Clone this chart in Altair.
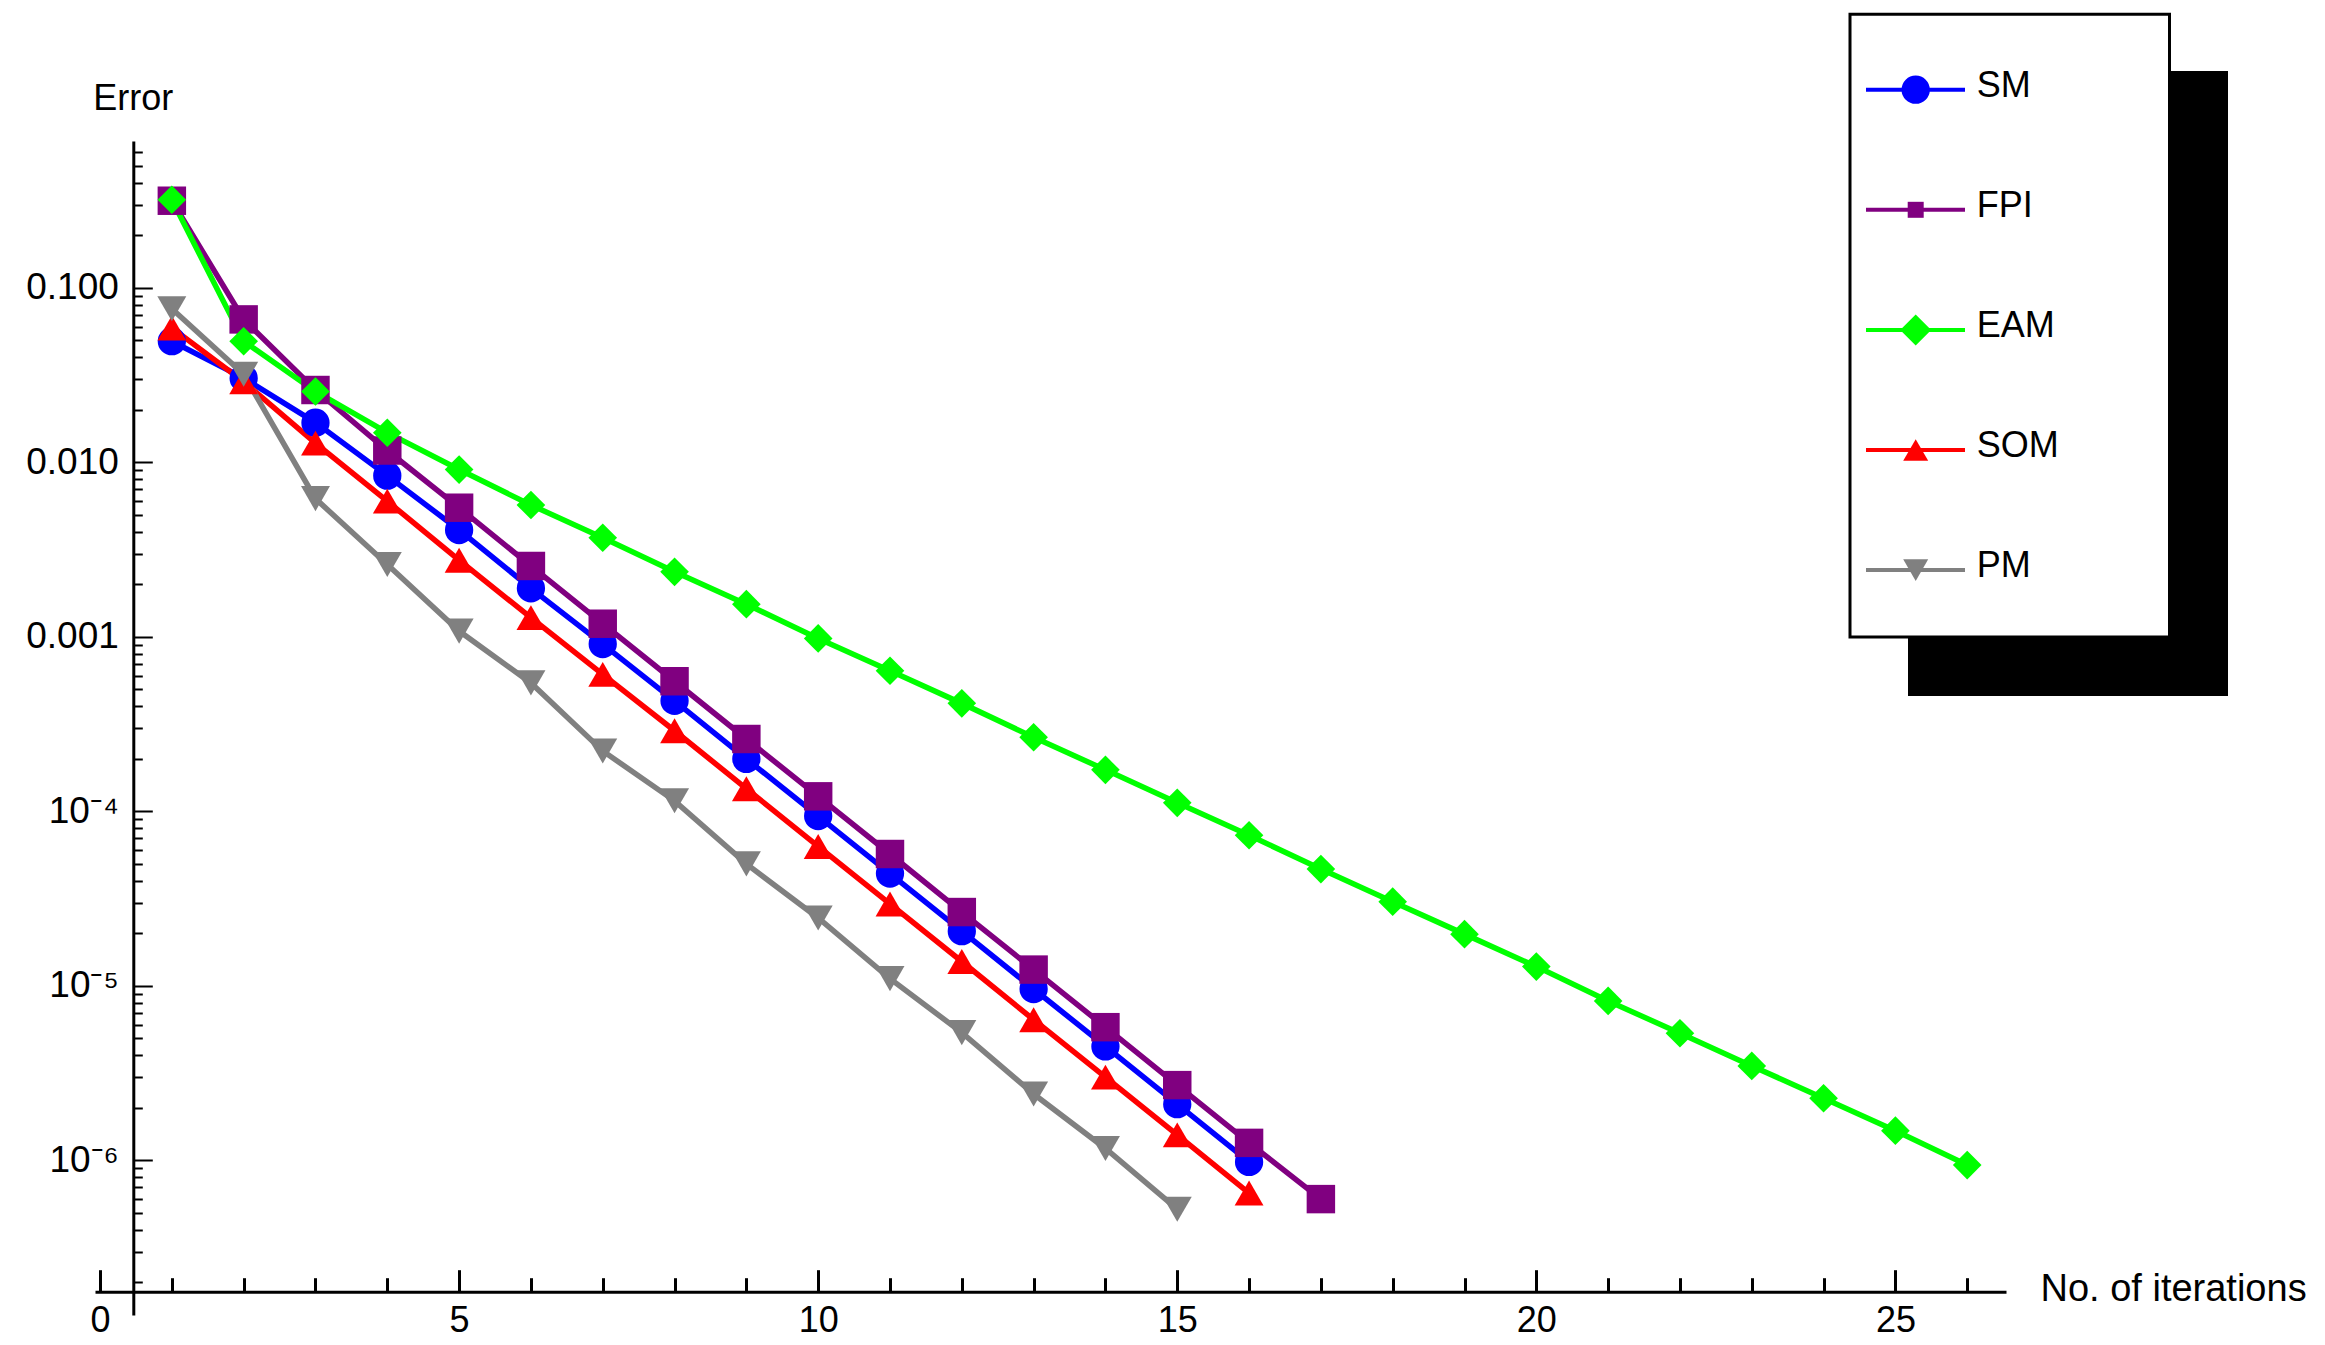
import json
import altair as alt
import pandas as pd

FONT = "Liberation Sans"

# ---------------- data ----------------
methods = ["SM", "FPI", "EAM", "SOM", "PM"]
colors = ["#0000ff", "#800080", "#00ff00", "#ff0000", "#808080"]
shapes = ["circle", "square", "diamond", "triangle-up", "triangle-down"]

sm_err = [0.0495, 0.0304, 0.0169, 0.0084, 0.0041, 0.0019, 9.1e-4, 4.3e-4,
          2.0e-4, 9.4e-5, 4.4e-5, 2.06e-5, 9.6e-6, 4.5e-6, 2.1e-6, 9.8e-7]
fpi_err = [0.316, 0.066, 0.026, 0.0117, 0.0055, 0.00255, 0.00119, 5.57e-4,
           2.6e-4, 1.22e-4, 5.7e-5, 2.65e-5, 1.24e-5, 5.8e-6, 2.7e-6, 1.26e-6, 6.0e-7]
eam_err = [0.32, 0.0495, 0.0255, 0.0148, 0.0091, 0.0057, 0.0037, 0.00236,
           0.00154, 9.8e-4, 6.4e-4, 4.16e-4, 2.66e-4, 1.73e-4, 1.12e-4, 7.3e-5,
           4.67e-5, 3.04e-5, 1.98e-5, 1.29e-5, 8.2e-6, 5.35e-6, 3.48e-6, 2.27e-6,
           1.48e-6, 9.4e-7]
som_err = [0.059, 0.029, 0.0129, 0.006, 0.00275, 0.00129, 6.1e-4, 2.9e-4,
           1.35e-4, 6.3e-5, 2.95e-5, 1.38e-5, 6.4e-6, 3.0e-6, 1.4e-6, 6.5e-7]
pm_err = [0.076, 0.032, 0.0062, 0.0026, 0.00108, 5.45e-4, 2.22e-4, 1.15e-4,
          5.0e-5, 2.45e-5, 1.1e-5, 5.4e-6, 2.4e-6, 1.17e-6, 5.25e-7]

series = [sm_err, fpi_err, eam_err, som_err, pm_err]

x_major_ticks = [0, 5, 10, 15, 20, 25]
x_all_ticks = list(range(0, 27))
y_tick_values = [0.1, 0.01, 0.001, 1e-4, 1e-5, 1e-6]
y_tick_labels = ["0.100", "0.010", "0.001", "10\u207b\u2074", "10\u207b\u2075", "10\u207b\u2076"]
y_minor_mult = [1, 2, 3, 4, 5, 6, 7, 8, 9]
y_decades = [-7, -6, -5, -4, -3, -2, -1]

x_title = "No. of iterations"
y_title = "Error"

rows = []
for m, vals in zip(methods, series):
    for i, v in enumerate(vals):
        rows.append({"iter": i + 1, "error": v, "method": m})
df = pd.DataFrame(rows)

# ---------------- geometry ----------------
W, H = 1911, 1174
X_DOMAIN = [-0.07, 26.54]
Y_DOMAIN = [1.30e-7, 0.695]
YAXIS_IN = 38.3        # y axis position from plot left (px)
XAXIS_UP = 23.3        # x axis position from plot bottom (px)
PL, PT = 95, 140       # page position of plot origin (for legend decoration)


def px(v):
    return v - PL


def py(v):
    return v - PT


y_all_ticks = [k * 10.0 ** e for e in y_decades for k in y_minor_mult
               if Y_DOMAIN[0] <= k * 10.0 ** e <= Y_DOMAIN[1]]

xscale = alt.Scale(domain=X_DOMAIN, nice=False, zero=False)
yscale = alt.Scale(type="log", domain=Y_DOMAIN, nice=False)
cscale = alt.Scale(domain=methods, range=colors)
sscale = alt.Scale(domain=methods, range=shapes)
zscale = alt.Scale(domain=methods, range=[800, 841, 1089, 1024, 1024])

label_expr = (json.dumps(y_tick_labels, ensure_ascii=False)
              + "[round(-log(datum.value)/LN10) - 1]")

x_axis_main = alt.Axis(
    orient="bottom", offset=-XAXIS_UP, values=x_major_ticks, ticks=False,
    tickSize=0, domain=True, domainColor="black", domainWidth=3,
    labels=True, labelFont=FONT, labelFontSize=36, labelColor="black",
    labelPadding=12, labelFlush=False, labelOverlap=False, grid=False,
    title=x_title, titleFont=FONT, titleFontSize=38, titleFontWeight="normal",
    titleColor="black", titleAngle=0, titleAlign="left", titleBaseline="middle",
    titleX=1945, titleY=-2,
)
y_axis_main = alt.Axis(
    orient="left", offset=-YAXIS_IN, values=y_tick_values, ticks=False,
    tickSize=0, domain=True, domainColor="black", domainWidth=3,
    labels=True, labelFont=FONT, labelFontSize=37, labelColor="black",
    labelPadding=15, labelExpr=label_expr, labelFlush=False,
    labelOverlap=False, grid=False,
    title=y_title, titleFont=FONT, titleFontSize=36, titleFontWeight="normal",
    titleColor="black", titleAngle=0, titleAlign="left",
    titleBaseline="alphabetic", titleX=-40.6, titleY=-31.5,
)

lines = alt.Chart(df).mark_line(strokeWidth=5.5).encode(
    x=alt.X("iter:Q", scale=xscale, axis=x_axis_main),
    y=alt.Y("error:Q", scale=yscale, axis=y_axis_main),
    color=alt.Color("method:N", scale=cscale, legend=None),
    detail="method:N",
)

points = alt.Chart(df).mark_point(filled=True, opacity=1, strokeWidth=0).encode(
    x=alt.X("iter:Q", scale=xscale, axis=None),
    y=alt.Y("error:Q", scale=yscale, axis=None),
    color=alt.Color("method:N", scale=cscale, legend=None),
    shape=alt.Shape("method:N", scale=sscale, legend=None),
    size=alt.Size("method:N", scale=zscale, legend=None),
)

tick_axes = alt.Chart(df).mark_point(opacity=0).encode(
    x=alt.X("iter:Q", scale=xscale, axis=alt.Axis(
        orient="top", offset=-(H - XAXIS_UP), values=x_all_ticks,
        labels=False, domain=False, grid=False, title=None,
        ticks=True, tickColor="black", tickWidth=3,
        tickSize={"condition": {"test": "datum.value % 5 === 0", "value": 22},
                  "value": 14},
    )),
    y=alt.Y("error:Q", scale=yscale, axis=alt.Axis(
        orient="right", offset=-(W - YAXIS_IN), values=y_all_ticks,
        labels=False, domain=False, grid=False, title=None,
        ticks=True, tickColor="black", tickWidth=2,
        tickSize={"condition": {
            "test": "abs(log(datum.value)/LN10 - round(log(datum.value)/LN10)) < 0.001",
            "value": 19}, "value": 9},
    )),
)

# ---------------- legend (decoration) ----------------
one = pd.DataFrame({"k": [0]})
legend_layers = [
    alt.Chart(one).mark_rect(color="black").encode(
        x=alt.value(px(1908)), x2=alt.value(px(2228)),
        y=alt.value(py(70)), y2=alt.value(py(695))),
    alt.Chart(one).mark_rect(fill="white", stroke="black", strokeWidth=3).encode(
        x=alt.value(px(1850)), x2=alt.value(px(2169.5)),
        y=alt.value(py(13.3)), y2=alt.value(py(636))),
]
legend_sizes = [800, 256, 961, 625, 625]
for i, (m, c, s, z) in enumerate(zip(methods, colors, shapes, legend_sizes)):
    yl = 88.7 + 120.1 * i
    legend_layers.append(alt.Chart(one).mark_rule(color=c, strokeWidth=4).encode(
        x=alt.value(px(1866)), x2=alt.value(px(1965)), y=alt.value(py(yl))))
    legend_layers.append(alt.Chart(one).mark_point(
        filled=True, opacity=1, strokeWidth=0, shape=s, size=z, color=c).encode(
        x=alt.value(px(1915.7)), y=alt.value(py(yl))))
    legend_layers.append(alt.Chart(one).mark_text(
        align="left", baseline="alphabetic", font=FONT, fontSize=36,
        color="black").encode(
        x=alt.value(px(1976.7)), y=alt.value(py(yl + 7.3)), text=alt.value(m)))

chart = alt.layer(lines, points, tick_axes, *legend_layers).resolve_axis(
    x="independent", y="independent"
).properties(
    width=W, height=H,
    padding={"left": 17, "top": 4, "right": 0, "bottom": 0},
    background="white",
).configure_view(stroke=None)

chart.save("out.html", embed_options={"renderer": "svg", "actions": False})
